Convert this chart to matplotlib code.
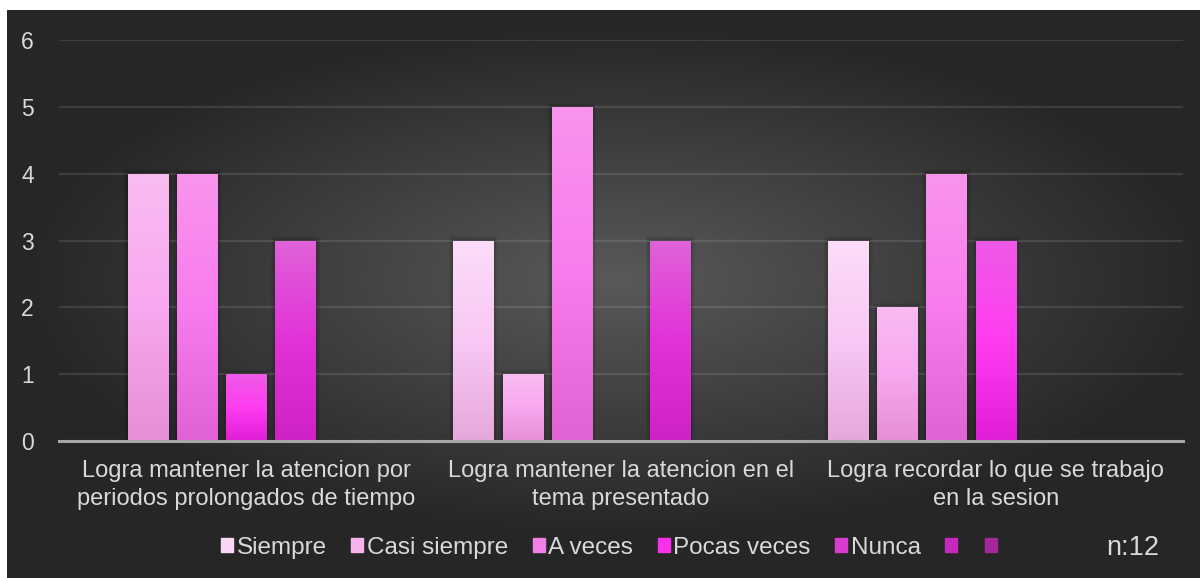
import numpy as np
import matplotlib.pyplot as plt
from matplotlib.patches import Patch, Rectangle

plt.rcParams['font.family'] = ['Liberation Sans', 'DejaVu Sans']

categories = ["Logra mantener la atencion por\nperiodos prolongados de tiempo",
              "Logra mantener la atencion en el\ntema presentado",
              "Logra recordar lo que se trabajo\nen la sesion"]
series = ["Siempre", "Casi siempre", "A veces", "Pocas veces", "Nunca", "", ""]
siempre = [0, 3, 3]
casi_siempre = [4, 1, 2]
a_veces = [4, 5, 4]
pocas_veces = [1, 0, 3]
nunca = [3, 3, 0]
blank1 = [0, 0, 0]
blank2 = [0, 0, 0]
values = [siempre, casi_siempre, a_veces, pocas_veces, nunca, blank1, blank2]

# top / middle / bottom colours of each bar gradient
grads = [("#fcdcf8", "#f9c8f4", "#e6a8dc"),
         ("#f9bcf2", "#f8a8f0", "#e78ed8"),
         ("#f894ec", "#f97cee", "#e062d4"),
         ("#ee5ae6", "#ff3cf2", "#e01ed6"),
         ("#e062d8", "#e232d8", "#cf22c6"),
         ("#c830c0", "#c028b8", "#a82898"),
         ("#a82898", "#9a2090", "#801878")]
legend_cols = ["#fad6f6", "#f8b2ee", "#f080e6", "#f832ea", "#d83ccc", "#c428bc", "#a4289a"]
txt = "#d9d9d9"

fig = plt.figure(figsize=(12, 5.78), dpi=100)
fig.patch.set_facecolor("white")

# dark radial background
bg = fig.add_axes([7 / 1200, 0, 1 - 7 / 1200, 1 - 10 / 578])
yy, xx = np.mgrid[-1:1:300j, -1:1:600j]
r = np.sqrt(((xx - 0.02) / 1.0) ** 2 + ((yy + 0.05) / 0.9) ** 2)
shade = np.clip(0.35 - 0.2 * r, 0.15, 0.35)
bg.imshow(np.dstack([shade] * 3), extent=[0, 1, 0, 1], aspect='auto')
bg.axis('off')

ax = fig.add_axes([59 / 1200, 1 - 441 / 578, 1124 / 1200, 401 / 578])
ax.patch.set_alpha(0)

x = np.arange(len(categories))
step = 0.1313
width = 0.107
ramp = np.linspace(0, 1, 100)
for i, vals in enumerate(values):
    pos = x + (i - 3) * step
    bars = ax.bar(pos, vals, width, color="none", zorder=3)
    top, mid, bot = [np.array(plt.matplotlib.colors.to_rgb(c)) for c in grads[i]]
    col = np.where(ramp[:, None] < 0.5,
                   top + (mid - top) * (ramp[:, None] / 0.5),
                   mid + (bot - mid) * ((ramp[:, None] - 0.5) / 0.5))
    img = col[:, None, :]
    for b in bars:
        h = b.get_height()
        if h <= 0:
            continue
        x0 = b.get_x()
        for k, a in enumerate([0.05, 0.07, 0.09]):
            d = 0.004 * (3 - k)
            ax.add_patch(Rectangle((x0 - d, 0), width + 2 * d, h + d * 6,
                                   color="black", alpha=a, lw=0, zorder=2))
        im = ax.imshow(img, extent=[x0, x0 + width, 0, h], aspect='auto',
                       zorder=3)
        im.set_clip_path(b)

ax.set_xlim(-0.5, 2.5)
ax.set_ylim(0, 6)
ax.set_yticks(range(7))
ax.yaxis.grid(True, color="white", alpha=0.11, lw=1.6, zorder=1)
ax.set_axisbelow(True)
for s in ["top", "right", "left"]:
    ax.spines[s].set_visible(False)
ax.spines["bottom"].set_color("#a6a6a6")
ax.spines["bottom"].set_linewidth(2.2)
ax.spines["bottom"].set_zorder(4)
ax.set_xticks(x)
ax.set_xticklabels(categories, linespacing=1.35)
ax.tick_params(axis='y', length=0, pad=18, labelsize=16.5, labelcolor=txt)
ax.tick_params(axis='x', length=0, pad=14, labelsize=17, labelcolor=txt)

handles = [Patch(color=c) for c in legend_cols]
fig.legend(handles, series, loc='center', bbox_to_anchor=(611 / 1200, 1 - 548 / 578),
           ncol=7, frameon=False, fontsize=17.5, labelcolor=txt,
           handlelength=0.5, handleheight=0.5, handletextpad=0.15,
           columnspacing=1.0)
fig.text(1133 / 1200, 1 - 548 / 578, "n:12", ha='center', va='center',
         fontsize=19.5, color=txt)

fig.savefig("out.png", dpi=100)
